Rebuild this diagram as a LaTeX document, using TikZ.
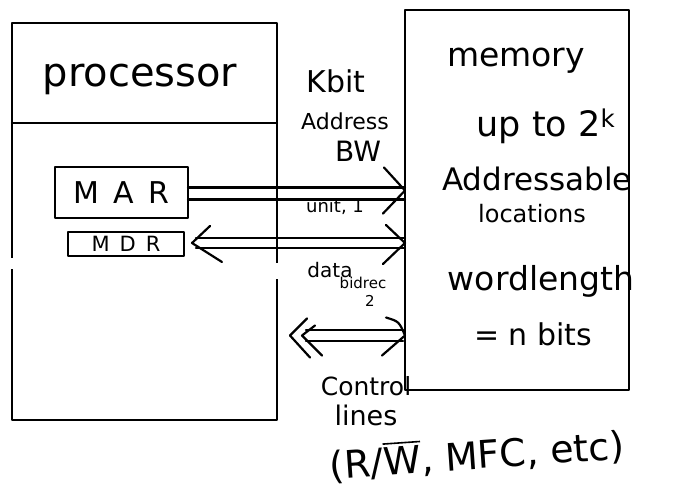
\documentclass[tikz,border=0pt]{standalone}
\usepackage{fontspec}
\setmainfont{DejaVu Sans}
\usetikzlibrary{calc}
\newcommand{\fs}[1]{\fontsize{#1}{#1}\selectfont}
\newcommand{\barW}{{\setbox0\hbox{W}\rlap{\raisebox{\dimexpr\ht0+3pt\relax}{\rule{\wd0}{1.6pt}}}W}}
\begin{document}
\begin{tikzpicture}[x=1pt,y=-1pt, line join=round, line cap=round,
  box/.style={draw, line width=2.6pt, inner sep=0pt, outer sep=0pt},
  regbox/.style={draw, line width=2.3pt, inner sep=0pt, outer sep=0pt},
  lbl/.style={inner sep=0pt, anchor=base},
  wire/.style={line width=2.2pt},
]
\useasboundingbox (0,0) rectangle (676,497);
% main blocks
\node[box, minimum width=265pt, minimum height=397pt, anchor=north west] (proc) at (12,23) {};
\node[box, minimum width=224pt, minimum height=380pt, anchor=north west] (mem) at (405,10) {};
\draw[line width=2.4pt] ([yshift=-100pt]proc.north west) -- ([yshift=-100pt]proc.north east);
% hand-drawn breaks in the processor outline
\fill[white] ($(proc.north west)+(-3,235)$) rectangle ++(6,11);
\fill[white] ($(proc.north east)+(-3,240)$) rectangle ++(6,16);
% registers
\node[regbox, minimum width=133pt, minimum height=51pt, anchor=north west, font=\fs{30}] (mar) at (55,167) {M\kern14pt A\kern14pt R};
\node[regbox, minimum width=116pt, minimum height=24pt, anchor=north west, font=\fs{21}] (mdr) at (68,232) {M\kern10pt D\kern10pt R};
% texts
\node[lbl, font=\fs{40}] (ptxt) at (140,87) {processor};
\node[lbl, font=\fs{33}] (mtxt) at (516,67) {memory};
\node[lbl, font=\fs{35}] (up) at (546,137) {up to 2\textsuperscript{k}};
\node[lbl, font=\fs{31}] (addr) at (537,190) {Addressable};
\node[lbl, font=\fs{24}] (loc) at (532,222) {locations};
\node[lbl, font=\fs{33}] (wl) at (541,290) {wordlength};
\node[lbl, font=\fs{30}] (nb) at (533,345) {= n bits};
\node[lbl, font=\fs{30}] (kbit) at (336,93) {Kbit};
\node[lbl, font=\fs{22}] (adbus) at (345,130) {Address};
\node[lbl, font=\fs{28}] (bw) at (358,161) {BW};
\node[lbl, font=\fs{18}] (uni) at (335,212) {unit, 1};
\node[lbl, font=\fs{20}] (data) at (330,277) {data};
\node[lbl, font=\fs{15}] (bid) at (363,288) {bidrec};
\node[lbl, font=\fs{15}] (two) at (370,306) {2};
\node[lbl, font=\fs{25}] (ctl) at (366,395) {Control};
\node[lbl, font=\fs{27}] (lines) at (366,425) {lines};
\node[lbl, font=\fs{38}, rotate=4] (sig) at (478,469) {(R/\barW,\ MFC,\ etc)};
% address bus MAR -> memory
\coordinate (marU) at ($(mar.east)+(0,-5)$);
\coordinate (marL) at ($(mar.east)+(0,7)$);
\coordinate (marT) at ($(mar.east -| mem.west)+(0,-2)$);
\draw[wire] (marU) -- (marU -| mem.west);
\draw[wire] (marL) -- (marL -| mem.west);
\draw[wire] ($(marT)+(-21,-23)$) -- (marT) -- ($(marT)+(-22,23)$);
% data bus MDR <-> memory
\coordinate (mdrT) at ($(mdr.east)+(8,-1)$);
\coordinate (memT) at ($(mdrT -| mem.west)$);
\draw[wire] ($(mdrT)+(4,-5)$) -- ($(memT)+(0,-5)$);
\draw[wire] ($(mdrT)+(4,5)$) -- ($(memT)+(0,5)$);
\draw[wire] ($(mdrT)+(18,-17)$) -- (mdrT) -- ($(mdrT)+(30,19)$);
\draw[wire] ($(memT)+(-19,-18)$) -- (memT) -- ($(memT)+(-22,21)$);
% control lines
\coordinate (ctlL) at ($(proc.east)+(13,114)$);
\coordinate (ctlR) at ($(ctlL -| mem.west)$);
\draw[wire] ($(ctlL)+(16,-5.5)$) -- ($(ctlR)+(-2,-5.5)$);
\draw[wire] ($(ctlL)+(16,5.5)$) -- ($(ctlR)+(-2,5.5)$);
\draw[wire] ($(ctlL)+(17,-17)$) -- (ctlL) -- ($(ctlL)+(20,22)$);
\draw[wire] ($(ctlL)+(25,-10)$) -- ($(ctlL)+(12,0)$) -- ($(ctlL)+(32,20)$);
\draw[wire] ($(ctlR)+(-19,-18)$) .. controls ($(ctlR)+(-6,-14)$) .. (ctlR) -- ($(ctlR)+(-23,20)$);
\end{tikzpicture}
\end{document}
